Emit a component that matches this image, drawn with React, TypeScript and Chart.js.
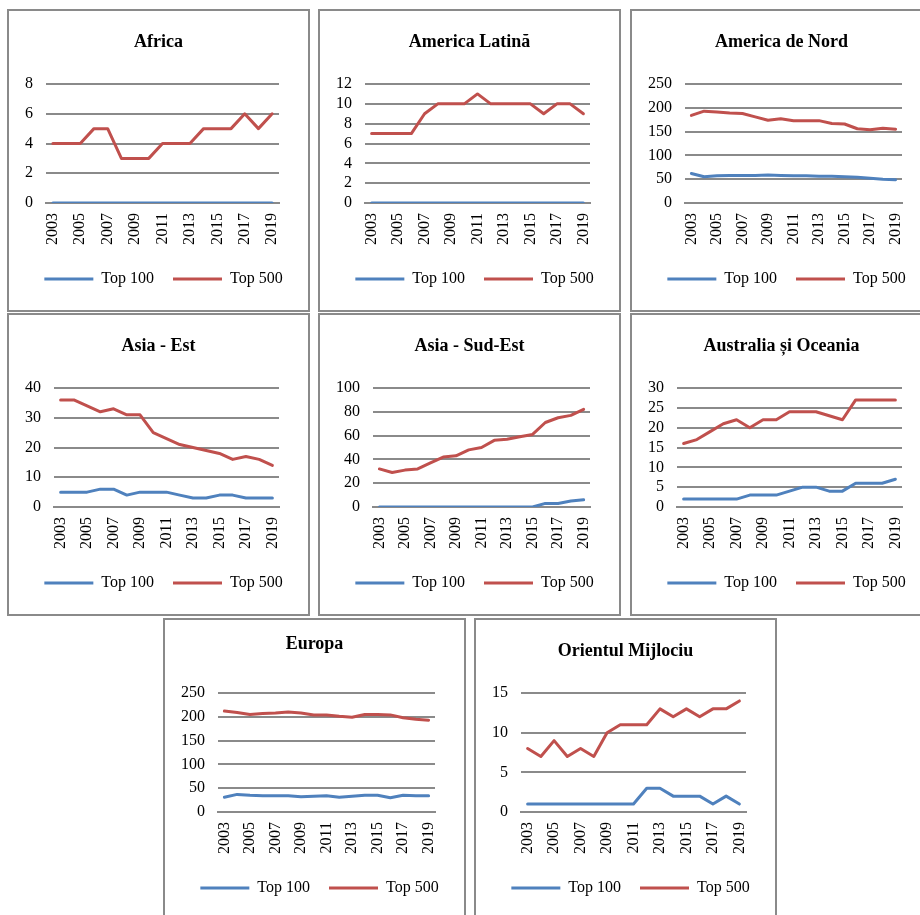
import React, { useEffect, useRef } from 'react';
import { Chart, registerables } from 'chart.js';

Chart.register(...registerables);

const years = ['2003', '2004', '2005', '2006', '2007', '2008', '2009', '2010', '2011', '2012', '2013', '2014', '2015', '2016', '2017', '2018', '2019'];
const seriesNames = ['Top 100', 'Top 500'];

const africaTop100 = [0, 0, 0, 0, 0, 0, 0, 0, 0, 0, 0, 0, 0, 0, 0, 0, 0];
const africaTop500 = [4, 4, 4, 5, 5, 3, 3, 3, 4, 4, 4, 5, 5, 5, 6, 5, 6];

const latinTop100 = [0, 0, 0, 0, 0, 0, 0, 0, 0, 0, 0, 0, 0, 0, 0, 0, 0];
const latinTop500 = [7, 7, 7, 7, 9, 10, 10, 10, 11, 10, 10, 10, 10, 9, 10, 10, 9];

const northTop100 = [62, 55, 57, 58, 58, 58, 59, 58, 57, 57, 56, 56, 55, 54, 52, 50, 49];
const northTop500 = [184, 193, 191, 189, 188, 181, 174, 177, 173, 173, 173, 167, 166, 156, 154, 157, 155];

const eastTop100 = [5, 5, 5, 6, 6, 4, 5, 5, 5, 4, 3, 3, 4, 4, 3, 3, 3];
const eastTop500 = [36, 36, 34, 32, 33, 31, 31, 25, 23, 21, 20, 19, 18, 16, 17, 16, 14];

const southEastTop100 = [0, 0, 0, 0, 0, 0, 0, 0, 0, 0, 0, 0, 0, 3, 3, 5, 6];
const southEastTop500 = [32, 29, 31, 32, 37, 42, 43, 48, 50, 56, 57, 59, 61, 71, 75, 77, 82];

const australiaTop100 = [2, 2, 2, 2, 2, 3, 3, 3, 4, 5, 5, 4, 4, 6, 6, 6, 7];
const australiaTop500 = [16, 17, 19, 21, 22, 20, 22, 22, 24, 24, 24, 23, 22, 27, 27, 27, 27];

const europeTop100 = [31, 37, 35, 34, 34, 34, 32, 33, 34, 31, 33, 35, 35, 30, 35, 34, 34];
const europeTop500 = [212, 209, 205, 207, 208, 210, 208, 204, 204, 201, 199, 205, 205, 204, 198, 195, 193];

const middleEastTop100 = [1, 1, 1, 1, 1, 1, 1, 1, 1, 3, 3, 2, 2, 2, 1, 2, 1];
const middleEastTop500 = [8, 7, 9, 7, 8, 7, 10, 11, 11, 11, 13, 12, 13, 12, 13, 13, 14];

const BLUE = '#4F81BD';
const RED = '#C0504D';
const GRID = '#8a8a8a';
const SERIF = "'Liberation Serif', 'Times New Roman', serif";

type PanelProps = {
  title: string;
  top100: number[];
  top500: number[];
  max: number;
  step: number;
  left: number;
  top: number;
  titleTop?: number;
};

const legendShift = {
  id: 'legendShift',
  afterLayout(chart: any) {
    if (chart.legend) {
      chart.legend.left += 5;
      chart.legend.right += 5;
    }
  },
};

function Panel({ title, top100, top500, max, step, left, top, titleTop = 21 }: PanelProps) {
  const ref = useRef<HTMLCanvasElement | null>(null);
  useEffect(() => {
    if (!ref.current) return;
    const tickFont = { family: SERIF, size: 16 };
    const chart = new Chart(ref.current, {
      type: 'line',
      data: {
        labels: years,
        datasets: [
          {
            label: seriesNames[0],
            data: top100,
            borderColor: BLUE,
            backgroundColor: BLUE,
            borderWidth: 3,
            pointRadius: 0,
            tension: 0,
            borderCapStyle: 'round',
            borderJoinStyle: 'round',
          },
          {
            label: seriesNames[1],
            data: top500,
            borderColor: RED,
            backgroundColor: RED,
            borderWidth: 3,
            pointRadius: 0,
            tension: 0,
            borderCapStyle: 'round',
            borderJoinStyle: 'round',
          },
        ],
      },
      options: {
        responsive: false,
        animation: false,
        layout: { padding: { left: 0, right: 0, top: 0, bottom: 13 } },
        plugins: {
          title: {
            display: true,
            text: title,
            color: '#000',
            font: { family: SERIF, size: 18, weight: 'bold', lineHeight: 1.2 },
            padding: { top: titleTop, bottom: 51.4 - titleTop },
          },
          legend: {
            position: 'bottom',
            labels: {
              usePointStyle: true,
              pointStyle: 'line',
              pointStyleWidth: 49,
              boxHeight: 16,
              padding: 19,
              color: '#000',
              font: tickFont,
            },
          },
          tooltip: { enabled: false },
        },
        scales: {
          x: {
            offset: true,
            grid: { display: false, drawTicks: false },
            border: { display: true, color: GRID, width: 2 },
            ticks: {
              autoSkip: false,
              maxRotation: 90,
              minRotation: 90,
              padding: 10,
              color: '#000',
              font: tickFont,
              callback: (_v: any, i: number) => (i % 2 === 0 ? years[i] : ''),
            },
            afterFit: (s: any) => {
              s.height = 49;
            },
          },
          y: {
            min: 0,
            max,
            grid: { color: GRID, lineWidth: 2, drawTicks: false },
            border: { display: false },
            ticks: { stepSize: step, autoSkip: false, padding: 13, color: '#000', font: tickFont },
            afterFit: (s: any) => {
              s.width += 3;
            },
          },
          yRight: {
            type: 'linear',
            position: 'right',
            display: true,
            grid: { display: false, drawTicks: false },
            border: { display: false },
            ticks: { display: false },
            afterFit: (s: any) => {
              s.width = 29;
            },
          },
        },
      } as any,
      plugins: [legendShift],
    });
    return () => chart.destroy();
  }, []);
  return (
    <div
      style={{
        position: 'absolute',
        left,
        top,
        width: 303,
        height: 303,
        border: '2px solid #8a8a8a',
        boxSizing: 'border-box',
        background: '#fff',
      }}
    >
      <canvas ref={ref} width={299} height={299} style={{ display: 'block' }} />
    </div>
  );
}

export default function App() {
  return (
    <div
      style={{
        position: 'absolute',
        left: 0,
        top: 0,
        width: 920,
        height: 915,
        overflow: 'hidden',
        background: '#fff',
      }}
    >
      <Panel title="Africa" top100={africaTop100} top500={africaTop500} max={8} step={2} left={7} top={9} />
      <Panel title="America Latină" top100={latinTop100} top500={latinTop500} max={12} step={2} left={318} top={9} />
      <Panel title="America de Nord" top100={northTop100} top500={northTop500} max={250} step={50} left={630} top={9} />
      <Panel title="Asia - Est" top100={eastTop100} top500={eastTop500} max={40} step={10} left={7} top={313} />
      <Panel title="Asia - Sud-Est" top100={southEastTop100} top500={southEastTop500} max={100} step={20} left={318} top={313} />
      <Panel title="Australia și Oceania" top100={australiaTop100} top500={australiaTop500} max={30} step={5} left={630} top={313} />
      <Panel title="Europa" top100={europeTop100} top500={europeTop500} max={250} step={50} left={163} top={618} titleTop={14} />
      <Panel title="Orientul Mijlociu" top100={middleEastTop100} top500={middleEastTop500} max={15} step={5} left={474} top={618} />
    </div>
  );
}
